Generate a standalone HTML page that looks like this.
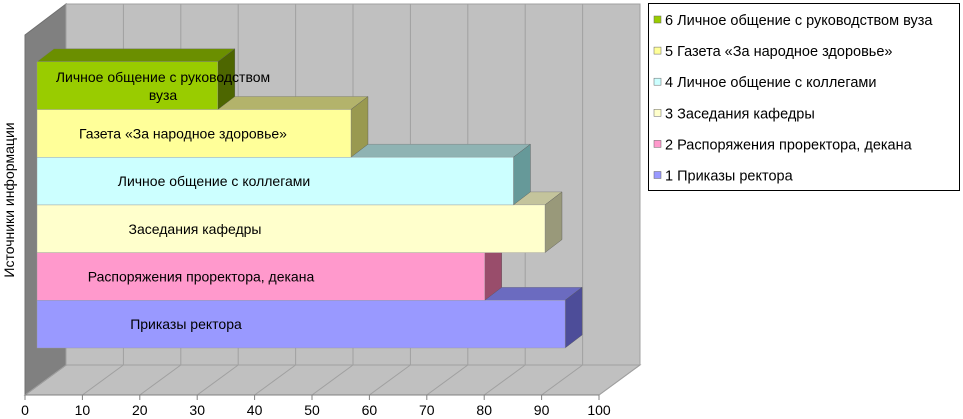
<!DOCTYPE html>
<html><head><meta charset="utf-8"><style>
body{margin:0;background:#fff;}
svg{display:block;font-family:"Liberation Sans",sans-serif;}
</style></head><body>
<svg id="c" width="963" height="419" viewBox="0 0 963 419"></svg>
<script>
const categories=["Приказы ректора","Распоряжения проректора, декана","Заседания кафедры","Личное общение с коллегами","Газета «За народное здоровье»","Личное общение с руководством вуза"];
const values=[92,78,88.5,83,54.7,31.5];
const ticks=[0,10,20,30,40,50,60,70,80,90,100];
const legendLabels=["6 Личное общение с руководством вуза","5 Газета «За народное здоровье»","4 Личное общение с коллегами","3 Заседания кафедры","2 Распоряжения проректора, декана","1 Приказы ректора"];
const front=["#9999ff","#ff99cc","#ffffcc","#ccffff","#ffff99","#99cc00"];
const topc=["#6b6bc0","#b36b8f","#c4c49c","#8fb3b3","#b3b36b","#6b8f00"];
const side=["#4d4d99","#994d6b","#99997a","#669999","#999950","#4d6600"];
const labelX=[186,201,195,214,183,163];
const svg=document.getElementById('c');const NS="http://www.w3.org/2000/svg";
function el(t,a,p){const e=document.createElementNS(NS,t);for(const k in a)e.setAttribute(k,a[k]);(p||svg).appendChild(e);return e;}
const X0=25,PX=5.74,FY=395,DX=41,DY=-30;
const sx=v=>X0+v*PX;
let e;
e=el('polygon',{points:`${X0+DX},4 ${sx(100)+DX},4 ${sx(100)+DX},${FY+DY} ${X0+DX},${FY+DY}`,fill:'#c0c0c0',stroke:'#a0a0a0'});

e=el('polygon',{points:`${X0},${FY} ${X0+DX},${FY+DY} ${sx(100)+DX},${FY+DY} ${sx(100)},${FY}`,fill:'#c0c0c0',stroke:'#a0a0a0'});

e=el('polygon',{points:`${X0},${FY} ${X0},35 ${X0+DX},4 ${X0+DX},${FY+DY}`,fill:'#808080',stroke:'#707070'});

ticks.forEach(t=>{
 e=el('line',{x1:sx(t)+DX,y1:4,x2:sx(t)+DX,y2:FY+DY,stroke:'#a0a0a0'});
 
 e=el('line',{x1:sx(t),y1:FY,x2:sx(t)+DX,y2:FY+DY,stroke:'#a0a0a0'});
 
 e=el('line',{x1:sx(t),y1:FY,x2:sx(t),y2:FY+5,stroke:'#808080'});
 
 e=el('text',{x:sx(t),y:415,'text-anchor':'middle','font-size':14,fill:'#000'});e.textContent=t;
 
});
e=el('line',{x1:X0,y1:FY,x2:sx(100),y2:FY,stroke:'#808080'});

const BX=X0+12,BY0=348,BH=47.7,bdx=17,bdy=-13;
values.forEach((v,i)=>{
 const g=el('g',{});
 const y1=BY0-i*BH,y0=y1-BH,xr=BX+v*PX;
 el('polygon',{points:`${BX},${y0} ${BX+bdx},${y0+bdy} ${xr+bdx},${y0+bdy} ${xr},${y0}`,fill:topc[i],stroke:'#777','stroke-width':0.4},g);
 el('polygon',{points:`${xr},${y0} ${xr+bdx},${y0+bdy} ${xr+bdx},${y1+bdy} ${xr},${y1}`,fill:side[i],stroke:'#555','stroke-width':0.4},g);
 el('rect',{x:BX,y:y0,width:xr-BX,height:BH,fill:front[i],stroke:'#999','stroke-width':0.4},g);
 if(i===5){
  const t=el('text',{x:labelX[i],y:y0+20,'text-anchor':'middle','font-size':14,fill:'#000'},g);t.textContent="Личное общение с руководством";
  const t2=el('text',{x:labelX[i],y:y0+38,'text-anchor':'middle','font-size':14,fill:'#000'},g);t2.textContent="вуза";
 } else {
  const t=el('text',{x:labelX[i],y:y0+BH/2+5,'text-anchor':'middle','font-size':14,fill:'#000'},g);t.textContent=categories[i];
 }
});
e=el('text',{x:14,y:200,'text-anchor':'middle','font-size':14,fill:'#000',transform:'rotate(-90 14 200)'});e.textContent="Источники информации";

const lg=el('g',{});
el('rect',{x:648.5,y:3.5,width:311,height:187,fill:'#fff',stroke:'#000','stroke-width':1},lg);
legendLabels.forEach((l,k)=>{
 const i=5-k,y=20+k*31.1;
 const g=el('g',{},lg);
 el('rect',{x:654,y:y-4,width:7,height:7,fill:front[i],stroke:'#666','stroke-width':0.5},g);
 const t=el('text',{x:665,y:y+5,'font-size':14.5,fill:'#000'},g);t.textContent=l;
});
</script>
</body></html>
